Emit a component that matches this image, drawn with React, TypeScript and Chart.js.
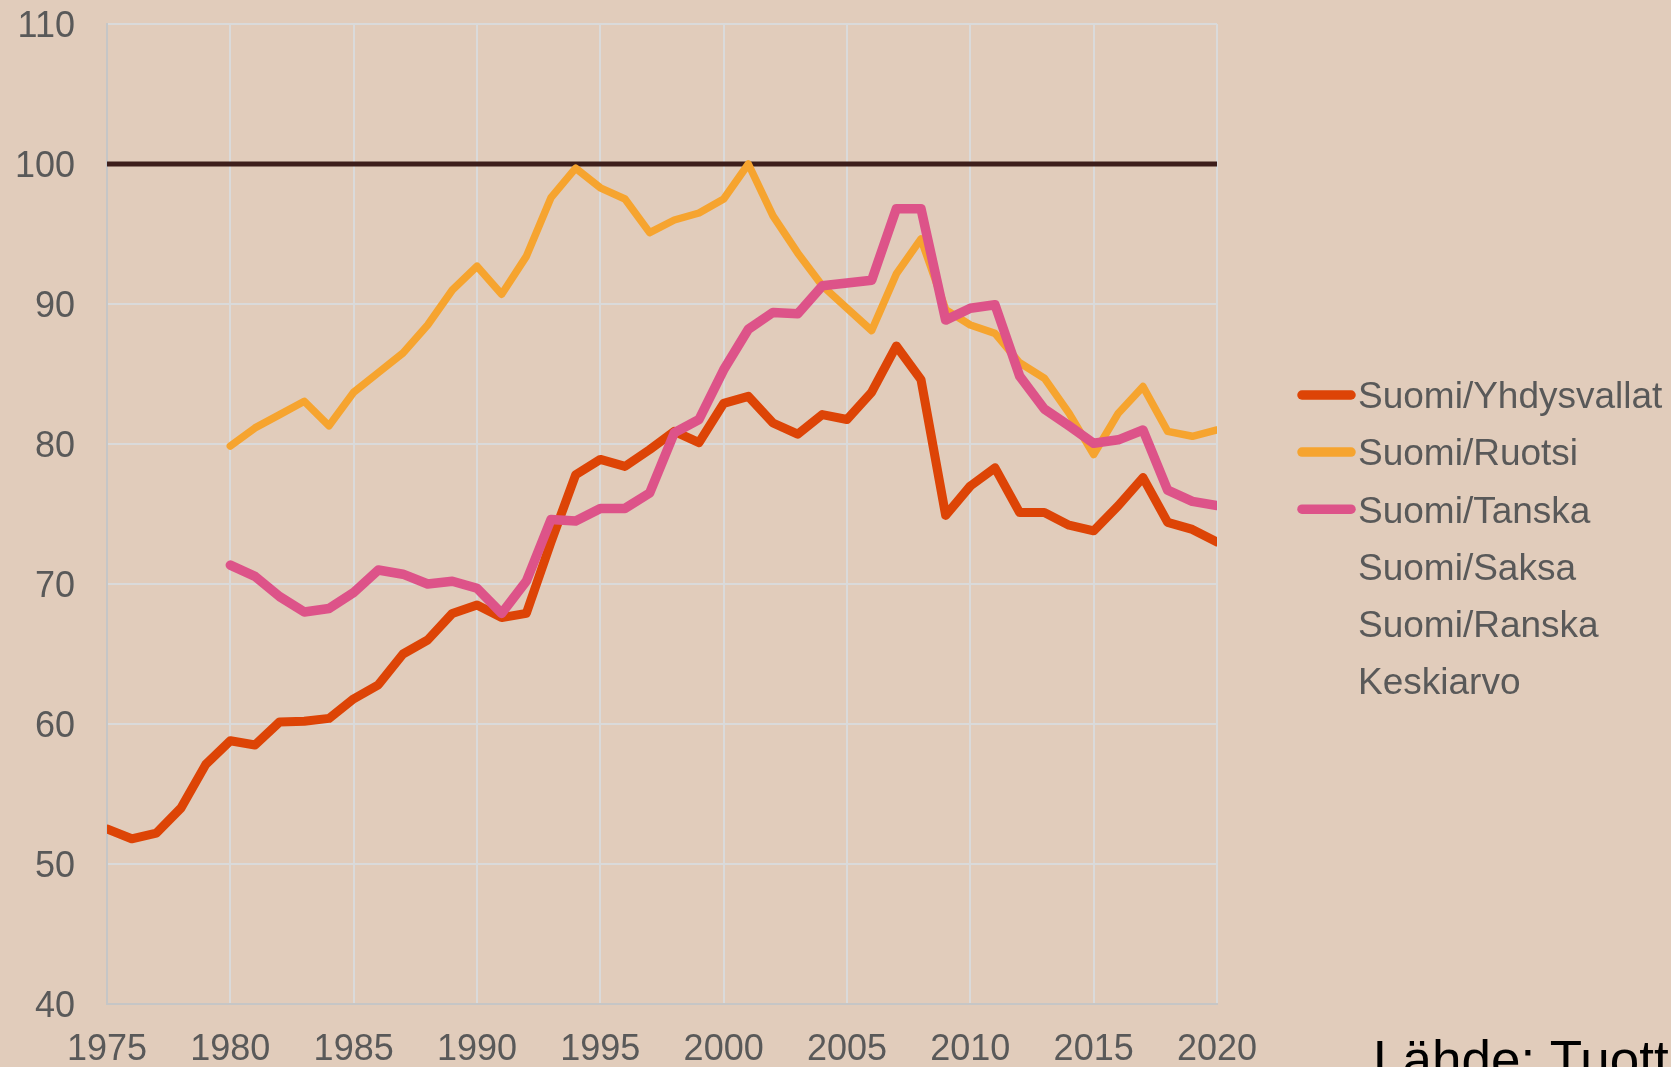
import React, { useEffect, useRef } from "react";
import { Chart, registerables } from "chart.js";

Chart.register(...registerables);

const years = [
  1975, 1976, 1977, 1978, 1979, 1980, 1981, 1982, 1983, 1984,
  1985, 1986, 1987, 1988, 1989, 1990, 1991, 1992, 1993, 1994,
  1995, 1996, 1997, 1998, 1999, 2000, 2001, 2002, 2003, 2004,
  2005, 2006, 2007, 2008, 2009, 2010, 2011, 2012, 2013, 2014,
  2015, 2016, 2017, 2018, 2019, 2020,
];

const suomiYhdysvallat = [
  52.5, 51.8, 52.2, 54.0, 57.1, 58.8, 58.5, 60.15, 60.2, 60.4,
  61.8, 62.8, 65.0, 66.0, 67.9, 68.5, 67.6, 67.9, 73.0, 77.8,
  78.9, 78.4, 79.6, 80.9, 80.1, 82.9, 83.4, 81.5, 80.7, 82.1,
  81.75, 83.7, 87.0, 84.6, 74.9, 77.0, 78.3, 75.1, 75.1, 74.2,
  73.8, 75.6, 77.6, 74.4, 73.9, 73.0,
];

const suomiRuotsi = [
  null, null, null, null, null, 79.85, 81.15, 82.1, 83.05, 81.3,
  83.7, 85.1, 86.5, 88.5, 91.0, 92.7, 90.7, 93.4, 97.6, 99.7,
  98.3, 97.5, 95.1, 96.0, 96.5, 97.5, 100.0, 96.3, 93.65, 91.3,
  89.7, 88.1, 92.15, 94.65, 89.6, 88.5, 87.9, 85.8, 84.7, 82.2,
  79.25, 82.2, 84.1, 80.9, 80.55, 81.0,
];

const suomiTanska = [
  null, null, null, null, null, 71.35, 70.55, 69.1, 68.0, 68.25,
  69.4, 71.0, 70.7, 70.0, 70.2, 69.7, 67.9, 70.2, 74.6, 74.5,
  75.4, 75.4, 76.5, 80.8, 81.75, 85.3, 88.2, 89.4, 89.3, 91.3,
  91.5, 91.7, 96.8, 96.8, 88.85, 89.7, 89.95, 84.85, 82.5, 81.3,
  80.05, 80.3, 81.0, 76.7, 75.9, 75.6,
];

const referenceYears = [1975, 2020];
const referenceValues = [100, 100];

const seriesLabels = [
  "Suomi/Yhdysvallat",
  "Suomi/Ruotsi",
  "Suomi/Tanska",
  "Suomi/Saksa",
  "Suomi/Ranska",
  "Keskiarvo",
];

const yMin = 40;
const yMax = 110;
const yStep = 10;
const xMin = 1975;
const xMax = 2020;
const xStep = 5;

const sourceText = "Lähde: Tuottavuuslautakunta";

const W = 1671;
const H = 1067;
const BG = "#e1ccbb";
const FONT = "'Liberation Sans', Arial, sans-serif";

const toPoints = (xs: number[], ys: (number | null)[]) =>
  xs.map((x, i) => ({ x, y: ys[i] }));

const bgPlugin = {
  id: "bgFill",
  beforeDraw(chart: any) {
    const ctx = chart.ctx;
    ctx.save();
    ctx.fillStyle = BG;
    ctx.fillRect(0, 0, chart.width, chart.height);
    ctx.restore();
  },
};

const legendPlugin = {
  id: "sideLegend",
  afterDraw(chart: any) {
    const ctx = chart.ctx;
    const entries = chart.data.datasets.filter((d: any) => d.inLegend);
    ctx.save();
    entries.forEach((d: any, i: number) => {
      const cy = 395 + i * 57.1;
      if (d.borderColor && d.borderColor !== "transparent") {
        ctx.beginPath();
        ctx.strokeStyle = d.borderColor;
        ctx.lineWidth = 9.5;
        ctx.lineCap = "round";
        ctx.moveTo(1302, cy);
        ctx.lineTo(1351, cy);
        ctx.stroke();
      }
      ctx.fillStyle = "#595959";
      ctx.font = `37px ${FONT}`;
      ctx.textAlign = "left";
      ctx.textBaseline = "alphabetic";
      ctx.fillText(d.label, 1358, cy + 13.3);
    });
    ctx.fillStyle = "#000000";
    ctx.font = `53px ${FONT}`;
    ctx.textAlign = "left";
    ctx.textBaseline = "alphabetic";
    ctx.fillText(sourceText, 1373, 1078);
    ctx.restore();
  },
};

export default function App() {
  const canvasRef = useRef<HTMLCanvasElement | null>(null);

  useEffect(() => {
    const canvas = canvasRef.current;
    if (!canvas) return;
    const colors = ["#dd4406", "#f6a42f", "#dd5389", "transparent", "transparent", "transparent"];
    const widths = [9, 7.5, 9.5, 0, 0, 0];
    const orders = [2, 3, 1, 4, 5, 6];
    const seriesData = [suomiYhdysvallat, suomiRuotsi, suomiTanska, [], [], []];

    const datasets: any[] = seriesLabels.map((label, i) => ({
      label,
      inLegend: true,
      data: seriesData[i].length ? toPoints(years, seriesData[i] as (number | null)[]) : [],
      borderColor: colors[i],
      backgroundColor: colors[i],
      borderWidth: widths[i],
      pointRadius: 0,
      tension: 0,
      borderJoinStyle: "round",
      borderCapStyle: "round",
      fill: false,
      order: orders[i],
    }));

    datasets.push({
      label: "",
      inLegend: false,
      data: toPoints(referenceYears, referenceValues),
      borderColor: "#3d1e1b",
      backgroundColor: "#3d1e1b",
      borderWidth: 5,
      pointRadius: 0,
      borderCapStyle: "butt",
      fill: false,
      order: 10,
    });

    const tickFont = { family: FONT, size: 36 };

    const chart = new Chart(canvas, {
      type: "line",
      data: { datasets },
      plugins: [bgPlugin, legendPlugin],
      options: {
        animation: false,
        responsive: false,
        maintainAspectRatio: false,
        devicePixelRatio: 1,
        layout: { padding: { top: 24, right: W - 1217, bottom: 0, left: 0 } },
        plugins: {
          legend: { display: false },
          tooltip: { enabled: false },
          title: { display: false },
        },
        scales: {
          x: {
            type: "linear",
            min: xMin,
            max: xMax,
            ticks: {
              stepSize: xStep,
              font: tickFont,
              color: "#595959",
              padding: 0,
              maxRotation: 0,
              autoSkip: false,
              callback: (v: any) => String(v),
            },
            grid: {
              color: "#dadada",
              lineWidth: 2,
              drawTicks: true,
              tickLength: 24,
              tickColor: "rgba(0,0,0,0)",
            },
            border: { color: "#c6c6c6", width: 2 },
            afterFit: (s: any) => {
              s.height = H - 1004;
            },
          },
          y: {
            type: "linear",
            min: yMin,
            max: yMax,
            ticks: {
              stepSize: yStep,
              font: tickFont,
              color: "#595959",
              padding: 0,
              labelOffset: 3,
              callback: (v: any) => String(v),
            },
            grid: {
              color: "#dadada",
              lineWidth: 2,
              drawTicks: true,
              tickLength: 32,
              tickColor: "rgba(0,0,0,0)",
            },
            border: { color: "#c6c6c6", width: 2 },
            afterFit: (s: any) => {
              s.width = 107;
            },
          },
        },
      } as any,
    });

    return () => chart.destroy();
  }, []);

  return (
    <div
      style={{
        position: "fixed",
        left: 0,
        top: 0,
        width: W,
        height: H,
        overflow: "hidden",
        background: BG,
      }}
    >
      <canvas ref={canvasRef} width={W} height={H} style={{ display: "block" }} />
    </div>
  );
}
